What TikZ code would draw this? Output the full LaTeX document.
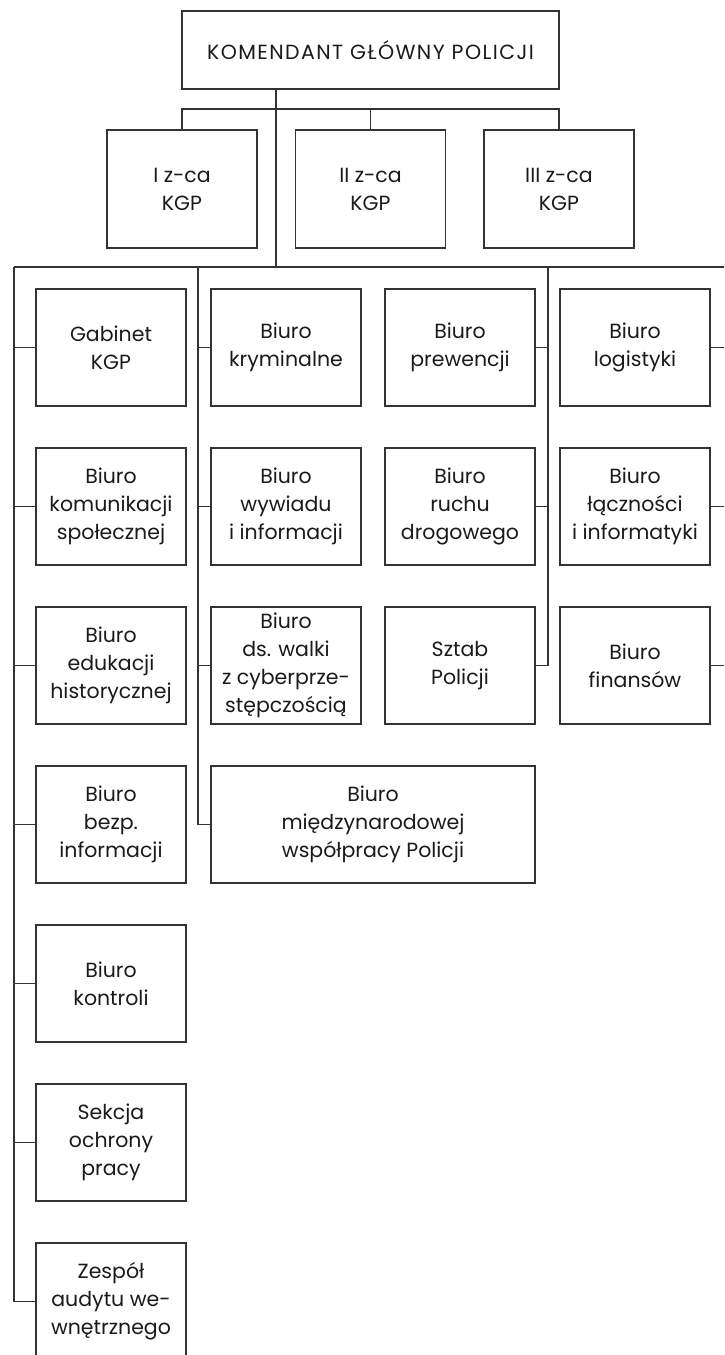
\documentclass[tikz,border=0pt]{standalone}
\usepackage{fontspec}
\setmainfont{Poppins}
\newfontfamily\capsfont[LetterSpace=7]{Poppins}
\definecolor{linegray}{HTML}{333333}
\definecolor{textgray}{HTML}{1A1A1A}
\tikzset{
  unit/.style={draw=linegray, line width=1.4pt, text=textgray, align=center,
    minimum width=150pt, minimum height=117pt, inner sep=1pt,
    font=\fontsize{20.5}{28}\selectfont},
  wideunit/.style={unit, minimum width=324pt},
  chief/.style={unit, minimum width=377pt, minimum height=78pt,
    font=\capsfont\fontsize{20.5}{28}\selectfont},
  deputy/.style={unit, minimum height=118pt}
}
\begin{document}
\begin{tikzpicture}[x=1pt, y=-1pt, line width=1.4pt, draw=linegray]
            \useasboundingbox (0,0) rectangle (724,1355);
            \clip (0,0) rectangle (724,1355);
            % Nodes with manual coordinates
            \node[chief] (kgp) at (370.5,50) {KOMENDANT GŁÓWNY POLICJI};
            \node[deputy] (z1) at (182,189) {I z-ca\\KGP};
            \node[deputy] (z2) at (370.5,189) {II z-ca\\KGP};
            \node[deputy] (z3) at (559,189) {III z-ca\\KGP};

            \node[unit] (gab) at (111,347.5) {Gabinet\\KGP};
            \node[unit] (kom) at (111,506.5) {Biuro\\komunikacji\\społecznej};
            \node[unit] (edu) at (111,665.5) {Biuro\\edukacji\\historycznej};
            \node[unit] (bezp) at (111,824.5) {Biuro\\bezp.\\informacji};
            \node[unit] (kontr) at (111,983.5) {Biuro\\kontroli};
            \node[unit] (bhp) at (111,1142.5) {Sekcja\\ochrony\\pracy};
            \node[unit] (audyt) at (111,1301.5) {Zespół\\audytu we-\\wnętrznego};

            \node[unit] (krym) at (286,347.5) {Biuro\\kryminalne};
            \node[unit] (wyw) at (286,506.5) {Biuro\\wywiadu\\i informacji};
            \node[unit] (cyber) at (286,665.5) {Biuro\\ds. walki\\z cyberprze-\\stępczością};
            \node[wideunit] (intl) at (373,824.5) {Biuro\\międzynarodowej\\współpracy Policji};

            \node[unit] (prew) at (460,347.5) {Biuro\\prewencji};
            \node[unit] (ruch) at (460,506.5) {Biuro\\ruchu\\drogowego};
            \node[unit] (sztab) at (460,665.5) {Sztab\\Policji};

            \node[unit] (log) at (635,347.5) {Biuro\\logistyki};
            \node[unit] (lacz) at (635,506.5) {Biuro\\łączności\\i informatyki};
            \node[unit] (fin) at (635,665.5) {Biuro\\finansów};

            \coordinate (dbus) at (370.5,109);
            \coordinate (trunk) at (276,267);
            \coordinate (busL) at (14,267);
            \coordinate (c2) at (198,267);
            \coordinate (c3) at (548,267);
            \coordinate (busR) at (738,267);

            % Edges
            \draw (z1) |- (dbus) -| (z3);
            \draw (z2) -- (dbus);
            \draw (trunk) -- (trunk |- kgp.south);
            \draw (busL) -- (busR);

            \draw (busL) |- (audyt);
            \draw (gab) -| (busL);
            \draw (kom) -| (busL);
            \draw (edu) -| (busL);
            \draw (bezp) -| (busL);
            \draw (kontr) -| (busL);
            \draw (bhp) -| (busL);

            \draw (c2) |- (intl);
            \draw (krym) -| (c2);
            \draw (wyw) -| (c2);
            \draw (cyber) -| (c2);

            \draw (c3) |- (sztab);
            \draw (prew) -| (c3);
            \draw (ruch) -| (c3);

            \draw (busR) |- (fin);
            \draw (log) -| (busR);
            \draw (lacz) -| (busR);
        \end{tikzpicture}
\end{document}
